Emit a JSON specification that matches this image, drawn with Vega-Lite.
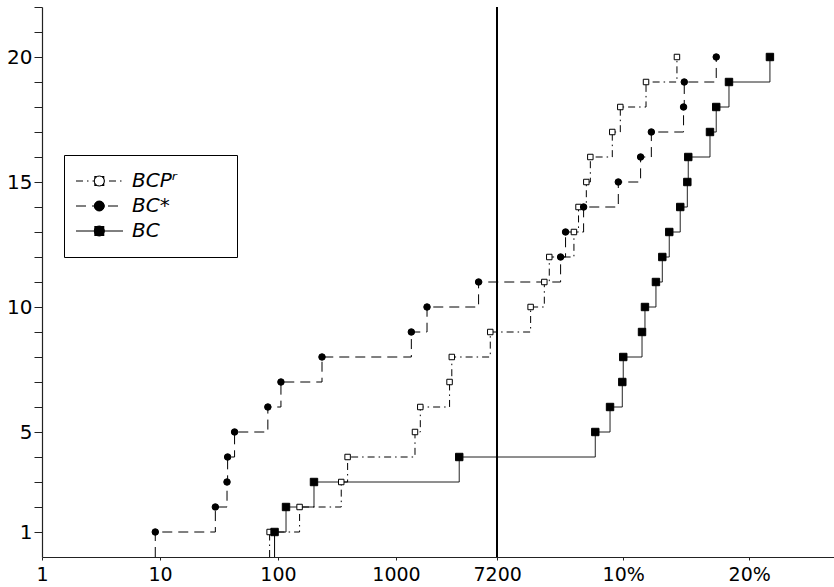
{
  "$schema": "https://vega.github.io/schema/vega-lite/v6.json",
  "width": 792,
  "height": 550,
  "autosize": {"type": "none"},
  "padding": {"left": 42, "top": 7, "right": 0, "bottom": 30},
  "background": "white",
  "config": {"view": {"stroke": null}, "axis": {"grid": false}},
  "data": {"values": [
    {"series": "BCPʳ", "solved": 0, "x": 1.929},
    {"series": "BCPʳ", "solved": 1, "x": 1.929},
    {"series": "BCPʳ", "solved": 2, "x": 2.183},
    {"series": "BCPʳ", "solved": 3, "x": 2.536},
    {"series": "BCPʳ", "solved": 4, "x": 2.590},
    {"series": "BCPʳ", "solved": 5, "x": 3.161},
    {"series": "BCPʳ", "solved": 6, "x": 3.206},
    {"series": "BCPʳ", "solved": 7, "x": 3.454},
    {"series": "BCPʳ", "solved": 8, "x": 3.473},
    {"series": "BCPʳ", "solved": 9, "x": 3.799},
    {"series": "BCPʳ", "solved": 10, "x": 4.141},
    {"series": "BCPʳ", "solved": 11, "x": 4.257},
    {"series": "BCPʳ", "solved": 12, "x": 4.299},
    {"series": "BCPʳ", "solved": 13, "x": 4.508},
    {"series": "BCPʳ", "solved": 14, "x": 4.547},
    {"series": "BCPʳ", "solved": 15, "x": 4.613},
    {"series": "BCPʳ", "solved": 16, "x": 4.647},
    {"series": "BCPʳ", "solved": 17, "x": 4.833},
    {"series": "BCPʳ", "solved": 18, "x": 4.901},
    {"series": "BCPʳ", "solved": 19, "x": 5.119},
    {"series": "BCPʳ", "solved": 20, "x": 5.381},
    {"series": "BC*", "solved": 0, "x": 0.960},
    {"series": "BC*", "solved": 1, "x": 0.960},
    {"series": "BC*", "solved": 2, "x": 1.469},
    {"series": "BC*", "solved": 3, "x": 1.568},
    {"series": "BC*", "solved": 4, "x": 1.573},
    {"series": "BC*", "solved": 5, "x": 1.632},
    {"series": "BC*", "solved": 6, "x": 1.914},
    {"series": "BC*", "solved": 7, "x": 2.025},
    {"series": "BC*", "solved": 8, "x": 2.373},
    {"series": "BC*", "solved": 9, "x": 3.130},
    {"series": "BC*", "solved": 10, "x": 3.263},
    {"series": "BC*", "solved": 11, "x": 3.700},
    {"series": "BC*", "solved": 12, "x": 4.395},
    {"series": "BC*", "solved": 13, "x": 4.437},
    {"series": "BC*", "solved": 14, "x": 4.590},
    {"series": "BC*", "solved": 15, "x": 4.884},
    {"series": "BC*", "solved": 16, "x": 5.073},
    {"series": "BC*", "solved": 17, "x": 5.164},
    {"series": "BC*", "solved": 18, "x": 5.437},
    {"series": "BC*", "solved": 19, "x": 5.443},
    {"series": "BC*", "solved": 20, "x": 5.714},
    {"series": "BC", "solved": 0, "x": 1.971},
    {"series": "BC", "solved": 1, "x": 1.971},
    {"series": "BC", "solved": 2, "x": 2.068},
    {"series": "BC", "solved": 3, "x": 2.305},
    {"series": "BC", "solved": 4, "x": 3.536},
    {"series": "BC", "solved": 5, "x": 4.689},
    {"series": "BC", "solved": 6, "x": 4.814},
    {"series": "BC", "solved": 7, "x": 4.918},
    {"series": "BC", "solved": 8, "x": 4.926},
    {"series": "BC", "solved": 9, "x": 5.085},
    {"series": "BC", "solved": 10, "x": 5.110},
    {"series": "BC", "solved": 11, "x": 5.203},
    {"series": "BC", "solved": 12, "x": 5.257},
    {"series": "BC", "solved": 13, "x": 5.316},
    {"series": "BC", "solved": 14, "x": 5.409},
    {"series": "BC", "solved": 15, "x": 5.469},
    {"series": "BC", "solved": 16, "x": 5.477},
    {"series": "BC", "solved": 17, "x": 5.661},
    {"series": "BC", "solved": 18, "x": 5.714},
    {"series": "BC", "solved": 19, "x": 5.822},
    {"series": "BC", "solved": 20, "x": 6.169}
  ]},
  "encoding": {
    "x": {
      "field": "x", "type": "quantitative",
      "scale": {"domain": [0, 6.712], "nice": false, "zero": false},
      "axis": {
        "title": null,
        "values": [0, 1, 2, 3, 3.8573, 4.9253, 5.9933],
        "labelExpr": "datum.value < 0.5 ? '1' : datum.value < 1.5 ? '10' : datum.value < 2.5 ? '100' : datum.value < 3.5 ? '1000' : datum.value < 4.2 ? '7200' : datum.value < 5.5 ? '10%' : '20%'",
        "labelFont": "DejaVu Sans", "labelFontSize": 19, "labelColor": "black",
        "labelPadding": 5, "labelOverlap": false, "labelFlush": false,
        "tickSize": 3, "tickColor": "#222", "domainColor": "#222", "domainWidth": 1.2
      }
    },
    "y": {
      "field": "solved", "type": "quantitative",
      "scale": {"domain": [0, 22], "nice": false},
      "axis": {
        "title": null,
        "values": [1, 2, 3, 4, 5, 6, 7, 8, 9, 10, 11, 12, 13, 14, 15, 16, 17, 18, 19, 20, 21, 22],
        "labelExpr": "datum.value == 1 || datum.value % 5 == 0 ? datum.label : ''",
        "labelFont": "DejaVu Sans", "labelFontSize": 20, "labelColor": "black",
        "labelPadding": 2, "labelOverlap": false,
        "tickSize": 8, "tickColor": "#222", "domainColor": "#222", "domainWidth": 1.2
      }
    }
  },
  "layer": [
    {
      "mark": {"type": "rule", "color": "black", "strokeWidth": 0.9},
      "encoding": {"x": {"datum": 3.8573}, "y": null}
    },
    {
      "mark": {"type": "line", "interpolate": "step-after", "color": "black", "strokeWidth": 1},
      "encoding": {
        "order": {"field": "solved"},
        "strokeDash": {
          "field": "series", "type": "nominal",
          "scale": {"domain": ["BCPʳ", "BC*", "BC"], "range": [[7, 4, 1.5, 4], [10, 6], [1, 0]]},
          "legend": {
            "title": "\u2003", "titleOrient": "right", "titleFontSize": 20, "titlePadding": 44,
            "orient": "none", "legendX": 22, "legendY": 148,
            "padding": 16, "strokeColor": "black", "fillColor": "white", "cornerRadius": 0,
            "symbolType": "M-1,0H8.4", "symbolSize": 100, "symbolStrokeColor": "black",
            "symbolStrokeWidth": 1, "symbolFillColor": "transparent", "symbolOffset": -9,
            "labelFont": "DejaVu Sans", "labelFontSize": 20, "labelFontStyle": "italic",
            "labelColor": "black", "labelOffset": 41, "rowPadding": 5, "labelLimit": 300
          }
        }
      }
    },
    {
      "transform": [{"filter": "datum.solved > 0"}],
      "mark": {"type": "point", "filled": true, "stroke": "black", "strokeWidth": 1, "opacity": 1},
      "encoding": {
        "shape": {
          "field": "series", "type": "nominal", "sort": ["BCPʳ", "BC*", "BC"],
          "scale": {"range": ["square", "circle", "square"]},
          "legend": {
            "title": null, "orient": "none", "legendX": 31.3, "legendY": 148,
            "padding": 16, "symbolStrokeColor": "black", "symbolStrokeWidth": 1,
            "labelFont": "DejaVu Sans", "labelFontSize": 20, "labelExpr": "''",
            "labelOffset": 10, "rowPadding": 5
          }
        },
        "fill": {
          "field": "series", "type": "nominal", "sort": ["BCPʳ", "BC*", "BC"],
          "scale": {"range": ["white", "black", "black"]},
          "legend": {
            "title": null, "orient": "none", "legendX": 31.3, "legendY": 148,
            "padding": 16, "symbolStrokeColor": "black", "symbolStrokeWidth": 1,
            "labelFont": "DejaVu Sans", "labelFontSize": 20, "labelExpr": "''",
            "labelOffset": 10, "rowPadding": 5
          }
        },
        "size": {
          "field": "series", "type": "nominal", "sort": ["BCPʳ", "BC*", "BC"],
          "scale": {"range": [30, 55, 40]},
          "legend": {
            "title": null, "orient": "none", "legendX": 31.3, "legendY": 148,
            "padding": 16, "symbolStrokeColor": "black", "symbolStrokeWidth": 1,
            "labelFont": "DejaVu Sans", "labelFontSize": 20, "labelExpr": "''",
            "labelOffset": 10, "rowPadding": 5
          }
        }
      }
    }
  ]
}
